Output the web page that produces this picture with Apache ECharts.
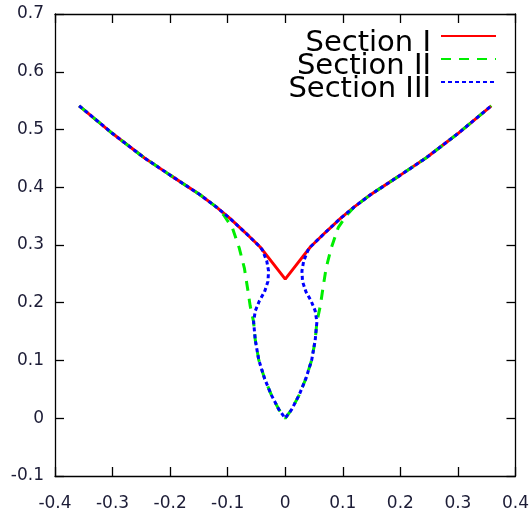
<!DOCTYPE html>
<html>
<head>
<meta charset="utf-8">
<title>Section curves</title>
<script type="text/javascript" src="https://cdn.jsdelivr.net/npm/echarts@6/dist/echarts.min.js"></script>
<style>
	html, body { margin: 0; padding: 0; background: #fff; }
</style>
</head>
<body>

	<div id="main" style="width: 532px; height: 515px;"></div>

	<script type="text/javascript">
		// [x, y] points, left end -> centre -> right end
		var sectionI = [
			[-0.358, 0.541], [-0.30, 0.493], [-0.245, 0.451], [-0.20, 0.421],
			[-0.148, 0.387], [-0.12, 0.366], [-0.096, 0.346], [-0.07, 0.322],
			[-0.044, 0.297], [-0.022, 0.269], [0, 0.241],
			[0.022, 0.269], [0.044, 0.297], [0.07, 0.322], [0.096, 0.346],
			[0.12, 0.366], [0.148, 0.387], [0.20, 0.421], [0.245, 0.451],
			[0.30, 0.493], [0.358, 0.541]
		];

		var sectionII = [
			[-0.358, 0.541], [-0.30, 0.493], [-0.245, 0.451], [-0.20, 0.421],
			[-0.148, 0.387], [-0.12, 0.366], [-0.107, 0.352], [-0.092, 0.330],
			[-0.080, 0.295], [-0.071, 0.260], [-0.065, 0.222], [-0.061, 0.195],
			[-0.055, 0.167], [-0.052, 0.135], [-0.046, 0.101], [-0.036, 0.069],
			[-0.024, 0.040], [-0.011, 0.015], [0, 0],
			[0.011, 0.015], [0.024, 0.040], [0.036, 0.069], [0.046, 0.101],
			[0.052, 0.135], [0.055, 0.167], [0.061, 0.195], [0.065, 0.222],
			[0.071, 0.260], [0.080, 0.295], [0.092, 0.330], [0.107, 0.352],
			[0.12, 0.366], [0.148, 0.387], [0.20, 0.421], [0.245, 0.451],
			[0.30, 0.493], [0.358, 0.541]
		];

		var sectionIII = [
			[-0.358, 0.541], [-0.30, 0.493], [-0.245, 0.451], [-0.20, 0.421],
			[-0.148, 0.387], [-0.12, 0.366], [-0.096, 0.346], [-0.07, 0.322],
			[-0.044, 0.297], [-0.040, 0.292], [-0.032, 0.272], [-0.029, 0.255],
			[-0.030, 0.237], [-0.036, 0.219], [-0.045, 0.203], [-0.052, 0.186],
			[-0.055, 0.167], [-0.052, 0.135], [-0.046, 0.101], [-0.036, 0.069],
			[-0.024, 0.040], [-0.011, 0.015], [0, 0],
			[0.011, 0.015], [0.024, 0.040], [0.036, 0.069], [0.046, 0.101],
			[0.052, 0.135], [0.055, 0.167], [0.052, 0.186], [0.045, 0.203],
			[0.036, 0.219], [0.030, 0.237], [0.029, 0.255], [0.032, 0.272],
			[0.040, 0.292], [0.044, 0.297], [0.07, 0.322], [0.096, 0.346],
			[0.12, 0.366], [0.148, 0.387], [0.20, 0.421], [0.245, 0.451],
			[0.30, 0.493], [0.358, 0.541]
		];

		var seriesNames = ['Section I', 'Section II', 'Section III'];

		var myChart = echarts.init(document.getElementById('main'));

		var labelFont = {
			fontFamily : 'DejaVu Sans',
			fontSize : 17,
			color : '#1c1c36'
		};

		// 四边都画向内的刻度，只在左边和下边显示数字
		function valueAxis(pos, min, max, showLabel, margin) {
			return {
				type : 'value',
				position : pos,
				min : min,
				max : max,
				interval : 0.1,
				axisLine : { show : true, onZero : false, lineStyle : { color : '#000', width : 1.3 } },
				axisTick : { show : true, inside : true, length : 9, lineStyle : { color : '#000', width : 1.3 } },
				axisLabel : Object.assign({ show : showLabel, margin : margin }, labelFont),
				splitLine : { show : false }
			};
		}

		var option = {
			animation : false,
			backgroundColor : '#fff',
			grid : {
				left : 55,
				right : 14,
				top : 14,
				bottom : 39
			},
			legend : {
				orient : 'vertical',
				right : 30,
				top : 24,
				align : 'right',
				itemWidth : 55,
				itemHeight : 12,
				itemGap : -6,
				data : seriesNames,
				itemStyle : { opacity : 0 },
				formatter : '{t|{name}}',
				textStyle : {
					rich : {
						t : {
							fontFamily : 'DejaVu Sans',
							fontSize : 29,
							color : '#000',
							padding : [15, 5, 0, 0]
						}
					}
				}
			},
			xAxis : [
				valueAxis('bottom', -0.4, 0.4, true, 19),
				valueAxis('top', -0.4, 0.4, false, 8)
			],
			yAxis : [
				valueAxis('left', -0.1, 0.7, true, 11),
				valueAxis('right', -0.1, 0.7, false, 8)
			],
			series : [
				{
					name : seriesNames[0],
					type : 'line',
					data : sectionI,
					symbol : 'none',
					lineStyle : { color : '#ff0000', width : 3, type : 'solid' },
					itemStyle : { color : '#ff0000' }
				},
				{
					name : seriesNames[1],
					type : 'line',
					data : sectionII,
					symbol : 'none',
					lineStyle : { color : '#00ee00', width : 3, type : [10, 8] },
					itemStyle : { color : '#00ee00' }
				},
				{
					name : seriesNames[2],
					type : 'line',
					data : sectionIII,
					symbol : 'none',
					lineStyle : { color : '#0000ff', width : 3, type : [4, 3] },
					itemStyle : { color : '#0000ff' }
				}
			]
		};

		myChart.setOption(option);
	</script>

</body>
</html>
